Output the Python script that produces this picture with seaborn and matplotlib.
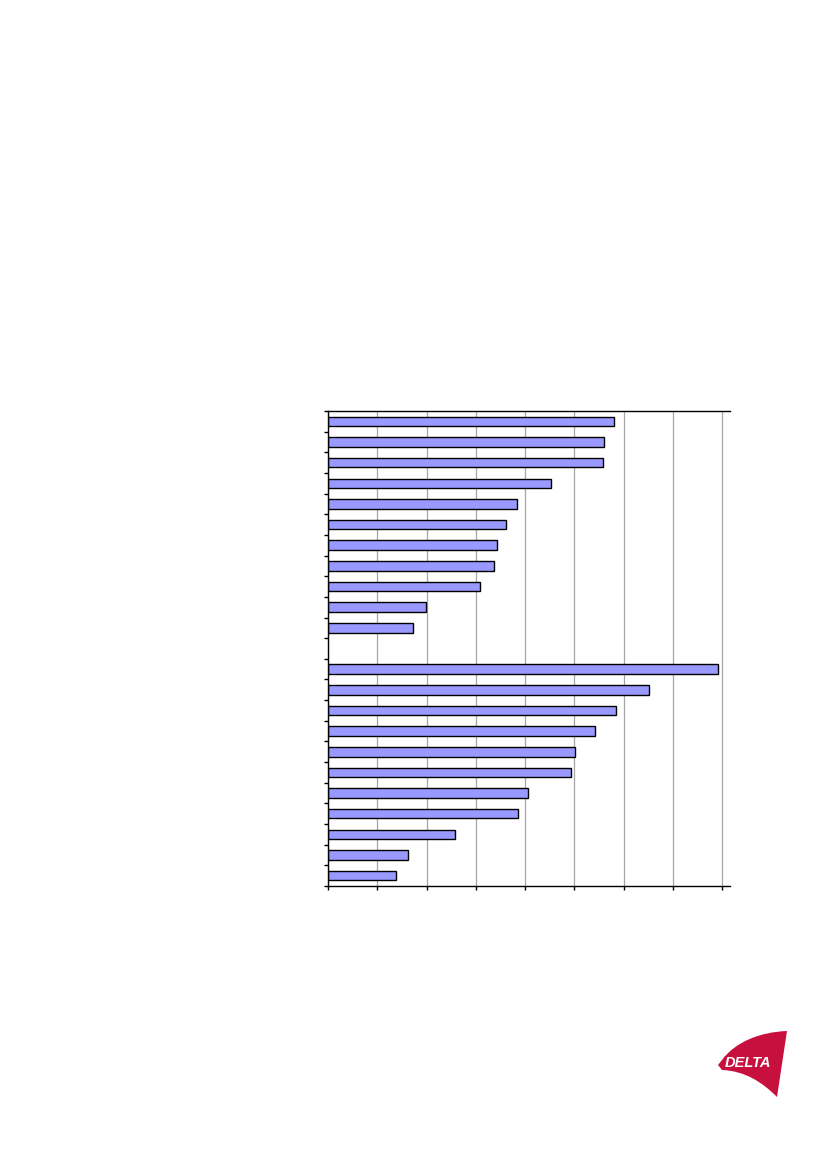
import matplotlib
matplotlib.use("Agg")
import matplotlib.pyplot as plt
from matplotlib.path import Path
from matplotlib.patches import PathPatch
import pandas as pd
import seaborn as sns

# 23 category slots: 11 bars, one empty slot, 11 bars (no labels in the source)
TOP_GROUP = [f"a{i}" for i in range(1, 12)]
BOTTOM_GROUP = [f"b{i}" for i in range(1, 12)]
GAP = "gap"
TOP_VALUES = [58.1, 56.1, 55.9, 45.3, 38.4, 36.2, 34.4, 33.6, 30.9, 19.8, 17.3]
BOTTOM_VALUES = [79.2, 65.2, 58.5, 54.2, 50.2, 49.4, 40.6, 38.6, 25.8, 16.3, 13.8]
X_TICKS = [0, 10, 20, 30, 40, 50, 60, 70, 80]

BAR_COLOR = "#9999ff"
LOGO_RED = "#c8103e"

W, H = 826, 1169


def px(x, y):
    return x / W, 1 - y / H


sns.set_theme(style="white")
plt.rcParams["font.family"] = ["Liberation Sans", "DejaVu Sans"]

df = pd.DataFrame(
    {
        "slot": TOP_GROUP + BOTTOM_GROUP,
        "value": TOP_VALUES + BOTTOM_VALUES,
    }
)
order = TOP_GROUP + [GAP] + BOTTOM_GROUP

fig = plt.figure(figsize=(W / 100, H / 100), dpi=100)
fig.patch.set_facecolor("white")
left, bottom = px(328, 886)
right, top = px(730, 411)
ax = fig.add_axes([left, bottom, right - left, top - bottom])

sns.barplot(
    data=df,
    x="value",
    y="slot",
    order=order,
    orient="h",
    color=BAR_COLOR,
    saturation=1,
    width=0.46,
    edgecolor="black",
    linewidth=1.0,
    ax=ax,
)

ax.set_xlim(0, 81.6)
ax.set_ylim(len(order) - 0.5, -0.5)
ax.set_xticks(X_TICKS)
ax.set_xticklabels([])
ax.set_yticks([i - 0.5 for i in range(len(order) + 1)])
ax.set_yticklabels([])
ax.set_xlabel("")
ax.set_ylabel("")

ax.grid(axis="x", color="#a6a6a6", linewidth=0.9)
ax.grid(axis="y", visible=False)
ax.set_axisbelow(True)
for side in ["left", "bottom", "top"]:
    ax.spines[side].set_color("black")
    ax.spines[side].set_linewidth(1.0)
ax.spines["right"].set_visible(False)
ax.tick_params(
    axis="both", direction="out", length=3, width=1.0, color="black",
    bottom=True, left=True, pad=0,
)

# DELTA logo, bottom right of the page
verts = [
    px(787, 1031),
    px(760, 1032), px(735, 1042), px(722, 1060),
    px(718, 1065),
    px(722, 1070),
    px(745, 1071), px(762, 1082), px(777, 1097),
    px(787, 1031),
]
codes = [
    Path.MOVETO,
    Path.CURVE4, Path.CURVE4, Path.CURVE4,
    Path.LINETO,
    Path.LINETO,
    Path.CURVE4, Path.CURVE4, Path.CURVE4,
    Path.CLOSEPOLY,
]
fig.add_artist(
    PathPatch(Path(verts, codes), transform=fig.transFigure,
              facecolor=LOGO_RED, edgecolor="none")
)
lx, ly = px(748, 1063)
fig.text(lx, ly, "DELTA", color="white", fontsize=10.5, fontweight="bold",
         fontstyle="italic", ha="center", va="center")

fig.savefig("out.png", dpi=100, facecolor="white")
